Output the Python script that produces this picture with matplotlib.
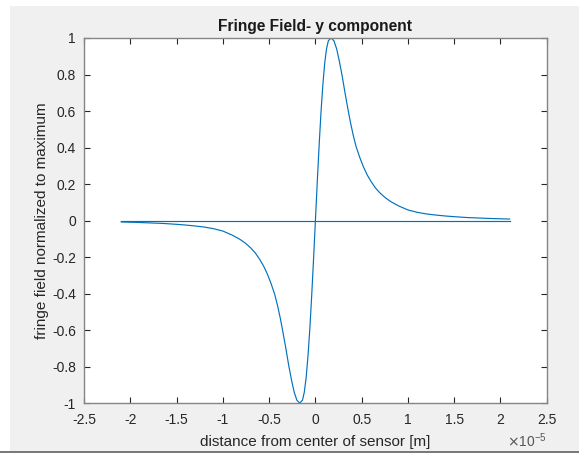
import numpy as np
import matplotlib
matplotlib.use('Agg')
import matplotlib.pyplot as plt
from matplotlib.patches import Rectangle

# values, x in units of 1e-5 m
x_vals = [-2.10, -1.95, -1.80, -1.65, -1.50, -1.40, -1.30, -1.20, -1.10,
          -1.00, -0.90, -0.82, -0.76, -0.70, -0.65, -0.60, -0.56, -0.52,
          -0.48, -0.44, -0.41, -0.38, -0.35, -0.32, -0.29, -0.26, -0.23,
          -0.20, -0.17, -0.14, -0.12, -0.10, -0.08, -0.06, -0.04, -0.02,
          0.00,
          0.02, 0.04, 0.06, 0.08, 0.10, 0.12, 0.14, 0.17, 0.20, 0.23, 0.26,
          0.29, 0.32, 0.35, 0.38, 0.41, 0.44, 0.48, 0.52, 0.56, 0.60, 0.65,
          0.70, 0.76, 0.82, 0.90, 1.00, 1.10, 1.20, 1.30, 1.40, 1.50, 1.65,
          1.80, 1.95, 2.10]
field = [-0.008, -0.010, -0.013, -0.016, -0.021, -0.025, -0.030, -0.036,
         -0.045, -0.058, -0.080, -0.102, -0.123, -0.150, -0.178, -0.215,
         -0.250, -0.293, -0.345, -0.405, -0.465, -0.535, -0.615, -0.70,
         -0.79, -0.87, -0.94, -0.985, -1.00, -0.985, -0.94, -0.86, -0.74,
         -0.59, -0.41, -0.21,
         0.00,
         0.21, 0.41, 0.59, 0.74, 0.86, 0.94, 0.985, 1.00, 0.985, 0.94, 0.87,
         0.79, 0.70, 0.615, 0.535, 0.465, 0.405, 0.345, 0.293, 0.250, 0.215,
         0.178, 0.150, 0.123, 0.102, 0.080, 0.058, 0.045, 0.036, 0.030,
         0.025, 0.021, 0.016, 0.013, 0.010, 0.008]
# flat trace across the whole range
flat_x = [-2.1, 2.1]
flat_y = [0.0, 0.0]

xticks = [-2.5, -2, -1.5, -1, -0.5, 0, 0.5, 1, 1.5, 2, 2.5]
xtick_labels = ['-2.5', '-2', '-1.5', '-1', '-0.5', '0', '0.5', '1', '1.5', '2', '2.5']
yticks = [-1, -0.8, -0.6, -0.4, -0.2, 0, 0.2, 0.4, 0.6, 0.8, 1]
ytick_labels = ['-1', '-0.8', '-0.6', '-0.4', '-0.2', '0', '0.2', '0.4', '0.6', '0.8', '1']

scale = 1e-5
plt.rcParams['font.family'] = ['Liberation Sans', 'DejaVu Sans']

fig = plt.figure(figsize=(5.79, 4.54), dpi=100, facecolor='white')
# grey window area of the screenshot, with its dark lower edge
fig.patches.append(Rectangle((10 / 579, 3 / 454), 569 / 579, 445 / 454,
                             transform=fig.transFigure, facecolor='#f0f0f0',
                             edgecolor='none', zorder=-2))
fig.patches.append(Rectangle((0, 1 / 454), 1, 2 / 454, transform=fig.transFigure,
                             facecolor='#7a7a7a', edgecolor='none', zorder=-1))

ax = fig.add_axes([0.1455, 0.1123, 0.7985, 0.8040])
ax.set_facecolor('white')

line_color = '#0072bd'
ax.plot(np.array(x_vals) * scale, field, color=line_color, lw=0.85)
ax.plot(np.array(flat_x) * scale, flat_y, color=line_color, lw=0.85)

ax.set_xlim(-2.5 * scale, 2.5 * scale)
ax.set_ylim(-1, 1)
ax.set_xticks(np.array(xticks) * scale)
ax.set_xticklabels(xtick_labels)
ax.set_yticks(yticks)
ax.set_yticklabels(ytick_labels)

axis_color = '#262626'
for side in ax.spines.values():
    side.set_color('#858585')
    side.set_linewidth(1.0)
ax.tick_params(direction='in', length=4, width=0.8, color=axis_color,
               labelsize=10, labelcolor=axis_color, top=True, right=True)
ax.tick_params(axis='x', pad=7)
ax.tick_params(axis='y', pad=6)

ax.set_title('Fringe Field- y component', fontsize=11.2, fontweight='bold',
             color='#1a1a1a', pad=5)
ax.set_xlabel('distance from center of sensor [m]', fontsize=11, color=axis_color,
              labelpad=6)
ax.set_ylabel('fringe field normalized to maximum', fontsize=11, color=axis_color,
              labelpad=2)
ax.text(1.0, -0.104, r'$\times$10$^{\mathregular{-5}}$', transform=ax.transAxes,
        fontsize=10, color='#555555', ha='right', va='center')

fig.savefig('out.png', dpi=100, facecolor=fig.get_facecolor())
